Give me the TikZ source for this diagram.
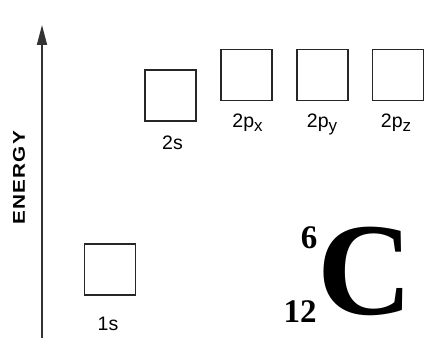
\documentclass[tikz,border=0pt]{standalone}
\usepackage{fontspec}
\usepackage{graphicx}
\setmainfont{Liberation Serif}
\newfontfamily\lsans{Liberation Sans}
\usetikzlibrary{arrows.meta}
\newcommand{\lsub}[1]{\raisebox{-4pt}{\fontsize{17}{17}\selectfont #1}}
\begin{document}
\begin{tikzpicture}[x=1pt,y=-1pt,
  orb/.style={draw=black!85, line width=1.6pt, minimum size=51pt, inner sep=0pt, outer sep=0pt},
  lbl/.style={font=\lsans\fontsize{19.5}{19.5}\selectfont, inner sep=0pt, anchor=base},
  axis/.style={line width=1.6pt, draw=black!80, -{Triangle[width=10pt,length=20pt]}}]
\useasboundingbox (0,0) rectangle (425,347);
% axis
\coordinate (a0) at (42,338);
\coordinate (a1) at (42,25);
\draw[axis] (a0) -- (a1);
\node[rotate=90, inner sep=0pt, font=\lsans\bfseries\fontsize{17}{17}\selectfont] (energy) at (19,178) {\scalebox{1.22}[1]{\addfontfeature{LetterSpace=6}ENERGY}};
% orbitals
\node[orb] (s1) at (110,269.5) {};
\node[orb] (s2) at (170.5,95.5) {};
\node[orb] (px) at (246.5,75) {};
\node[orb] (py) at (322.5,75) {};
\node[orb] (pz) at (398,75) {};
% labels
\node[lbl] (l1s) at (108,330) {1s};
\node[lbl] (l2s) at (172.5,150) {2s};
\node[lbl] (lpx) at (247.5,128) {2p\lsub{x}};
\node[lbl] (lpy) at (322,128) {2p\lsub{y}};
\node[lbl] (lpz) at (396,128) {2p\lsub{z}};
% element
\node[inner sep=0pt, anchor=base west, font=\bfseries\fontsize{132}{132}\selectfont] (C) at (317,314) {C};
\node[inner sep=0pt, anchor=base, font=\bfseries\fontsize{33}{33}\selectfont] (Z) at (309,248) {6};
\node[inner sep=0pt, anchor=base, font=\bfseries\fontsize{33}{33}\selectfont] (A) at (300,322) {12};
\end{tikzpicture}
\end{document}
